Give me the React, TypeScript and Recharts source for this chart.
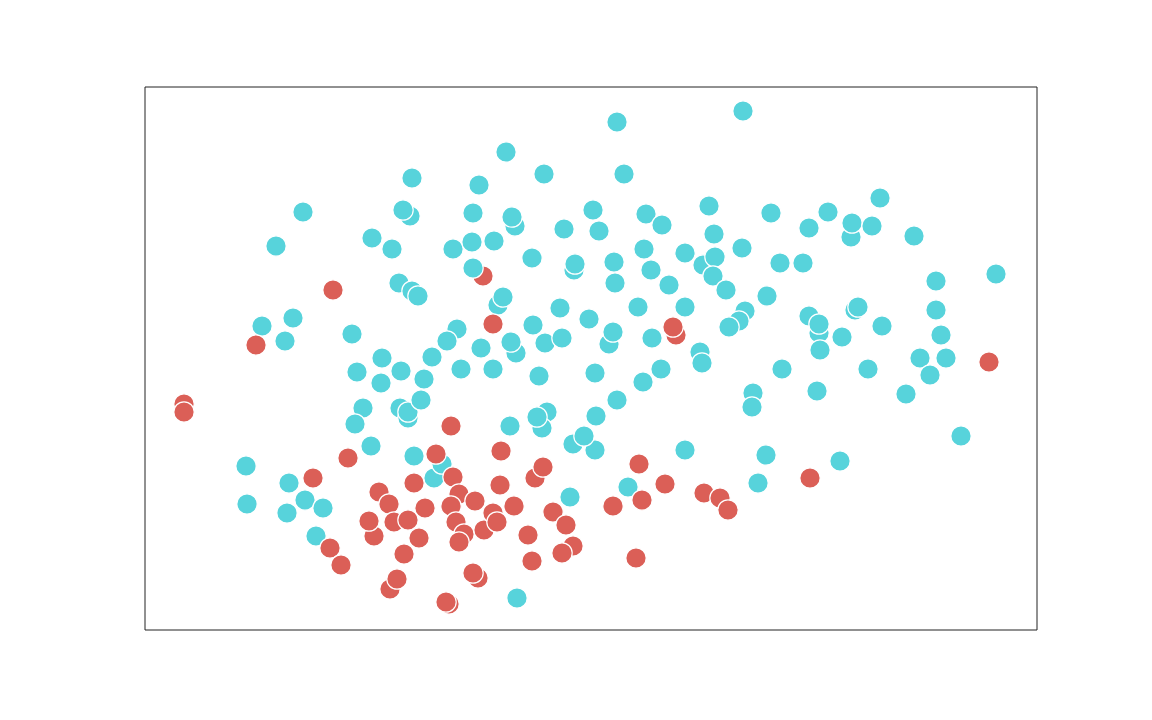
import React from "react";
import { ScatterChart, Scatter, XAxis, YAxis, ReferenceArea } from "recharts";

// Cluster B (cyan) points: [x, y]
const cyanPoints: [number, number][] = [
  [598,519],[472,508],[361,478],[479,456],[399,456],[267,452],[334,445],[735,432],
  [158,418],[265,414],[258,420],[328,417],[448,420],[564,424],[501,416],[370,404],
  [367,413],[626,417],[683,418],[706,393],[707,407],[727,404],[664,402],[517,405],
  [419,401],[454,399],[569,396],[131,384],[227,392],[247,381],[308,381],[327,388],
  [349,389],[499,381],[597,382],[769,394],[387,372],[429,360],[430,366],[469,368],
  [470,347],[506,360],[524,345],[540,377],[558,365],[570,373],[568,354],[581,340],
  [635,367],[658,367],[328,362],[254,347],[267,339],[273,334],[353,325],[358,333],
  [415,322],[493,323],[540,323],[622,334],[600,319],[594,309],[444,311],[312,301],
  [302,289],[336,282],[371,277],[366,288],[388,305],[400,287],[417,292],[464,286],
  [468,298],[507,292],[555,278],[557,267],[584,303],[664,314],[674,297],[674,306],
  [675,280],[697,293],[710,320],[713,323],[737,304],[791,349],[791,320],[796,295],
  [851,356],[775,272],[801,272],[785,255],[637,261],[723,261],[608,237],[607,223],
  [672,239],[761,236],[816,194],[621,175],[695,169],[613,147],[117,304],[148,312],
  [140,289],[207,296],[237,272],[287,273],[212,258],[236,247],[256,259],[279,251],
  [218,222],[210,206],[255,222],[263,212],[263,218],[276,230],[226,184],[269,174],
  [289,152],[297,166],[101,164],[102,126],[144,147],[160,130],[178,122],[142,117],
  [171,94],[316,261],[348,261],[394,254],[450,257],[498,248],[516,261],[472,230],
  [451,214],[365,204],[402,218],[397,202],[392,213],[428,186],[450,180],[439,194],
  [540,180],[425,133],[483,143],[372,32],
];

// Cluster A (red) points drawn beneath cluster B
const redBackPoints: [number, number][] = [[338,354]];

// Cluster A (red) points
const redPoints: [number, number][] = [
  [188,340],[111,285],[39,226],[39,218],[348,306],[531,295],[528,303],[844,268],
  [665,152],[168,152],[185,82],[196,65],[203,172],[291,176],[269,147],[306,204],
  [234,138],[244,126],[249,108],[263,110],[229,94],[224,109],[280,122],[274,92],
  [259,76],[245,41],[252,51],[304,26],[301,28],[356,179],[308,153],[314,136],
  [306,124],[330,129],[311,108],[319,96],[314,88],[339,100],[348,117],[352,108],
  [369,124],[355,145],[390,152],[398,163],[408,118],[421,105],[383,95],[428,84],
  [417,77],[387,69],[468,124],[494,166],[497,130],[520,146],[559,137],[575,132],
  [583,120],[491,72],[333,52],[328,57],
];

const X_DOMAIN: [number, number] = [0, 892];
const Y_DOMAIN: [number, number] = [0, 543];

const RED = "#db5f57";
const CYAN = "#57d3db";

const toRows = (pts: [number, number][]) => pts.map(([x, y]) => ({ x, y }));

const makeDot = (fill: string) => (props: any) => {
  const { cx, cy } = props;
  if (cx == null || cy == null) return <g />;
  return <circle cx={cx} cy={cy} r={10.2} fill={fill} stroke="#ffffff" strokeWidth={1.2} />;
};

export default function App() {
  return (
    <div style={{ width: 1100, height: 680 }}>
      <ScatterChart
        width={1100}
        height={680}
        margin={{ top: 79, left: 137, right: 71, bottom: 58 }}
      >
        <XAxis type="number" dataKey="x" domain={X_DOMAIN} hide allowDataOverflow />
        <YAxis type="number" dataKey="y" domain={Y_DOMAIN} hide allowDataOverflow />
        <ReferenceArea
          x1={X_DOMAIN[0]}
          x2={X_DOMAIN[1]}
          y1={Y_DOMAIN[0]}
          y2={Y_DOMAIN[1]}
          fill="none"
          fillOpacity={0}
          stroke="#222"
          strokeWidth={1}
          ifOverflow="visible"
        />
        <Scatter data={toRows(redBackPoints)} shape={makeDot(RED)} isAnimationActive={false} />
        <Scatter data={toRows(cyanPoints)} shape={makeDot(CYAN)} isAnimationActive={false} />
        <Scatter data={toRows(redPoints)} shape={makeDot(RED)} isAnimationActive={false} />
      </ScatterChart>
    </div>
  );
}
